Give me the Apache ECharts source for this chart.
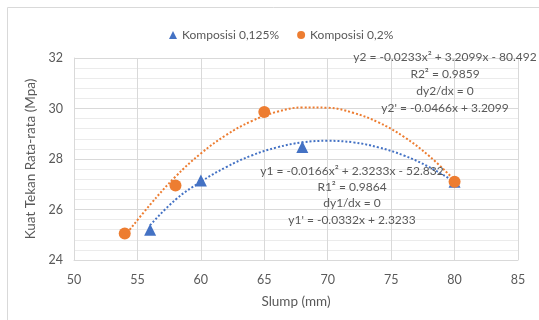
<!DOCTYPE html>
<html><head><meta charset="utf-8">
<script src="https://cdn.jsdelivr.net/npm/echarts@6/dist/echarts.min.js"></script>
<style>html,body{margin:0;padding:0;background:#fff}#c{width:539px;height:320px}</style>
</head><body><div id="c"></div>
<script>
// Data points
const slump1 = [56, 60, 68, 80];
const kuat1 = [25.2, 27.15, 28.48, 27.1];
const slump2 = [54, 58, 65, 80];
const kuat2 = [25.05, 26.95, 29.86, 27.1];
// Trendline samples
const trendX1 = [56, 58, 60, 62, 64, 66, 68, 70, 72, 74, 76, 78, 80];
const trendY1 = [25.38, 26.39, 27.1, 27.68, 28.14, 28.46, 28.66, 28.72, 28.66, 28.46, 28.14, 27.68, 27.1];
const trendX2 = [54, 56, 58, 60, 62, 64, 66, 68, 70, 72, 74, 76, 78, 80];
const trendY2 = [24.95, 26.19, 27.3, 28.22, 28.95, 29.5, 29.87, 30.04, 30.03, 29.83, 29.45, 28.88, 28.12, 27.16];
const seriesNames = ['Komposisi 0,125%', 'Komposisi 0,2%'];
const xTicks = [50, 55, 60, 65, 70, 75, 80, 85];
const yTicks = [24, 26, 28, 30, 32];
const eq1 = ['y1 = -0.0166x² + 2.3233x - 52.832', 'R1² = 0.9864', 'dy1/dx = 0', "y1' = -0.0332x + 2.3233"];
const eq2 = ['y2 = -0.0233x² + 3.2099x - 80.492', 'R2² = 0.9859', 'dy2/dx = 0', "y2' = -0.0466x + 3.2099"];

const BLUE = '#4472C4', ORANGE = '#ED7D31', TXT = '#595959';
const FONT = 'Lato';
const zip = (a, b) => a.map((v, i) => [v, b[i]]);

const chart = echarts.init(document.getElementById('c'), null, {renderer: 'canvas'});
const eqText = (lines, cx, y0, lh) => lines.map((t, i) => ({
  type: 'text', x: cx, y: y0 + i * lh, z: 10,
  style: {text: t, x: 0, y: 0, textAlign: 'center', textVerticalAlign: 'middle', fill: TXT, font: '12px ' + FONT}
}));
chart.setOption({
  animation: false,
  textStyle: {fontFamily: FONT},
  legend: {
    top: 24, left: 164, itemGap: 18, itemWidth: 8, itemHeight: 8,
    textStyle: {color: TXT, fontSize: 12, fontFamily: FONT},
    data: [{name: seriesNames[0], icon: 'triangle'}, {name: seriesNames[1], icon: 'circle'}]
  },
  grid: {left: 74, right: 21, top: 58, bottom: 60},
  xAxis: {
    type: 'value', min: xTicks[0], max: xTicks[xTicks.length - 1], interval: 5,
    name: 'Slump (mm)', nameLocation: 'middle', nameGap: 35,
    nameTextStyle: {color: TXT, fontSize: 13.5, fontFamily: FONT},
    axisLine: {show: true, lineStyle: {color: '#D9D9D9'}},
    axisTick: {show: false},
    axisLabel: {color: TXT, fontSize: 12.5, margin: 13, fontFamily: FONT},
    splitLine: {show: true, lineStyle: {color: '#D9D9D9', width: 1}}
  },
  yAxis: {
    type: 'value', min: yTicks[0], max: yTicks[yTicks.length - 1], interval: 2,
    name: 'Kuat Tekan Rata-rata (Mpa)', nameLocation: 'middle', nameGap: 32,
    nameTextStyle: {color: TXT, fontSize: 13.5, fontFamily: FONT},
    axisLine: {show: true, lineStyle: {color: '#D9D9D9'}},
    axisTick: {show: false},
    axisLabel: {color: TXT, fontSize: 12.5, margin: 11, fontFamily: FONT},
    splitLine: {show: true, lineStyle: {color: '#D9D9D9', width: 1}},
    minorTick: {show: false, splitNumber: 5},
    minorSplitLine: {show: true, lineStyle: {color: '#EBEBEB', width: 1}}
  },
  graphic: [
    {type: 'rect', shape: {x: 7.5, y: 7.5, width: 540, height: 320}, style: {fill: 'none', stroke: '#D9D9D9', lineWidth: 1}, z: -1}
  ].concat(eqText(eq2, 445, 57, 17)).concat(eqText(eq1, 352, 171, 16.3)),
  series: [
    {name: seriesNames[0] + ' trend', type: 'line', data: zip(trendX1, trendY1), smooth: 0.4, symbol: 'none',
     lineStyle: {color: BLUE, width: 2, type: [2, 2]}, z: 2, silent: true},
    {name: seriesNames[1] + ' trend', type: 'line', data: zip(trendX2, trendY2), smooth: 0.4, symbol: 'none',
     lineStyle: {color: ORANGE, width: 2, type: [2, 2]}, z: 2, silent: true},
    {name: seriesNames[0], type: 'scatter', data: zip(slump1, kuat1), symbol: 'triangle', symbolSize: 12,
     itemStyle: {color: BLUE, opacity: 1}, z: 3},
    {name: seriesNames[1], type: 'scatter', data: zip(slump2, kuat2), symbol: 'circle', symbolSize: 12,
     itemStyle: {color: ORANGE, opacity: 1}, z: 3}
  ]
});
</script></body></html>
